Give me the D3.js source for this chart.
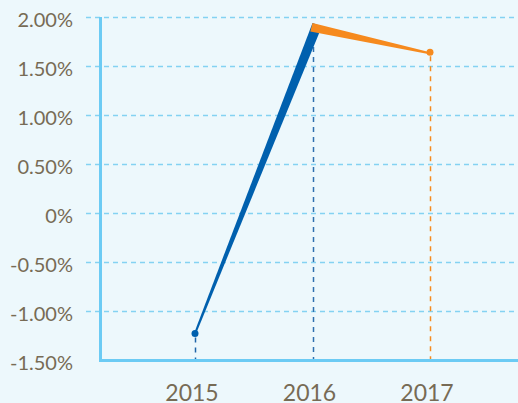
<!DOCTYPE html>
<html>
<head>
<meta charset="utf-8">
<script src="https://cdn.jsdelivr.net/npm/d3@7"></script>
<style>
  html, body { margin: 0; padding: 0; background: #edf8fc; }
  svg { display: block; }
  text { font-family: Lato, "Open Sans", sans-serif; fill: #776b55; }
</style>
</head>
<body>
<svg id="chart" width="518" height="403"></svg>
<script>
const years = ["2015", "2016", "2017"];
const values = [-1.23, 1.94, 1.64];
const segmentColors = ["#0060ae", "#f68a1e"];
const dropColors = ["#1f64a8", "#2f6fae", "#f68a1e"];
const yTicks = [-1.5, -1.0, -0.5, 0, 0.5, 1.0, 1.5, 2.0];
const yTickLabels = ["-1.50%", "-1.00%", "-0.50%", "0%", "0.50%", "1.00%", "1.50%", "2.00%"];

const W = 518, H = 403;
const svg = d3.select("#chart");
svg.append("rect").attr("width", W).attr("height", H).attr("fill", "#edf8fc");

const axisX = 100.5, axisY = 360.5;
const x = d3.scalePoint().domain(years).range([195, 430]);
const y = d3.scaleLinear().domain([-1.5, 2]).range([360, 17]);

// grid lines
svg.append("g").selectAll("line").data(yTicks.filter(t => t > -1.5)).join("line")
  .attr("x1", 86).attr("x2", W)
  .attr("y1", d => Math.round(y(d)) + 0.5).attr("y2", d => Math.round(y(d)) + 0.5)
  .attr("stroke", "#84d2f2").attr("stroke-width", 1.3)
  .attr("stroke-dasharray", "5,4");

// y labels
svg.append("g").selectAll("text").data(yTicks).join("text")
  .attr("x", 73).attr("y", d => y(d) + 2)
  .attr("text-anchor", "end").attr("dominant-baseline", "central")
  .attr("font-size", 20)
  .text((d, i) => yTickLabels[i]);

// drop lines
svg.append("g").selectAll("line").data(years).join("line")
  .attr("x1", d => Math.round(x(d)) + 0.5).attr("x2", d => Math.round(x(d)) + 0.5)
  .attr("y1", (d, i) => y(values[i]) + 4).attr("y2", axisY)
  .attr("stroke", (d, i) => dropColors[i]).attr("stroke-width", 1.5)
  .attr("stroke-dasharray", "5,5");

// axes
svg.append("line").attr("x1", axisX).attr("x2", axisX).attr("y1", 17).attr("y2", axisY + 1.5)
  .attr("stroke", "#6ccbf4").attr("stroke-width", 3);
svg.append("line").attr("x1", axisX - 1.5).attr("x2", W).attr("y1", axisY).attr("y2", axisY)
  .attr("stroke", "#6ccbf4").attr("stroke-width", 3);

// x labels
svg.append("g").selectAll("text").data(years).join("text")
  .attr("x", d => x(d) - 3).attr("y", 401)
  .attr("text-anchor", "middle").attr("font-size", 23)
  .text(d => d);

// tapered segments
const widths = [[2, 10], [9, 2]];
const segs = d3.range(years.length - 1).map(i => {
  const ax = x(years[i]), ay = y(values[i]);
  const bx = x(years[i + 1]), by = y(values[i + 1]);
  const dx = bx - ax, dy = by - ay, len = Math.hypot(dx, dy);
  const nx = -dy / len, ny = dx / len;
  const [w0, w1] = widths[i];
  const off0 = i === 0 ? w0 / 2 : 0;
  return [
    [ax - nx * off0, ay - ny * off0],
    [bx, by],
    [bx + nx * w1, by + ny * w1],
    [ax + nx * (w0 - off0), ay + ny * (w0 - off0)]
  ];
});
svg.append("g").selectAll("path").data(segs).join("path")
  .attr("d", d => "M" + d.map(p => p.join(",")).join("L") + "Z")
  .attr("fill", (d, i) => segmentColors[i]);

// end markers
svg.append("circle").attr("cx", x(years[0])).attr("cy", y(values[0])).attr("r", 3.5).attr("fill", segmentColors[0]);
svg.append("circle").attr("cx", x(years[2])).attr("cy", y(values[2])).attr("r", 3.5).attr("fill", segmentColors[1]);
</script>
</body>
</html>
